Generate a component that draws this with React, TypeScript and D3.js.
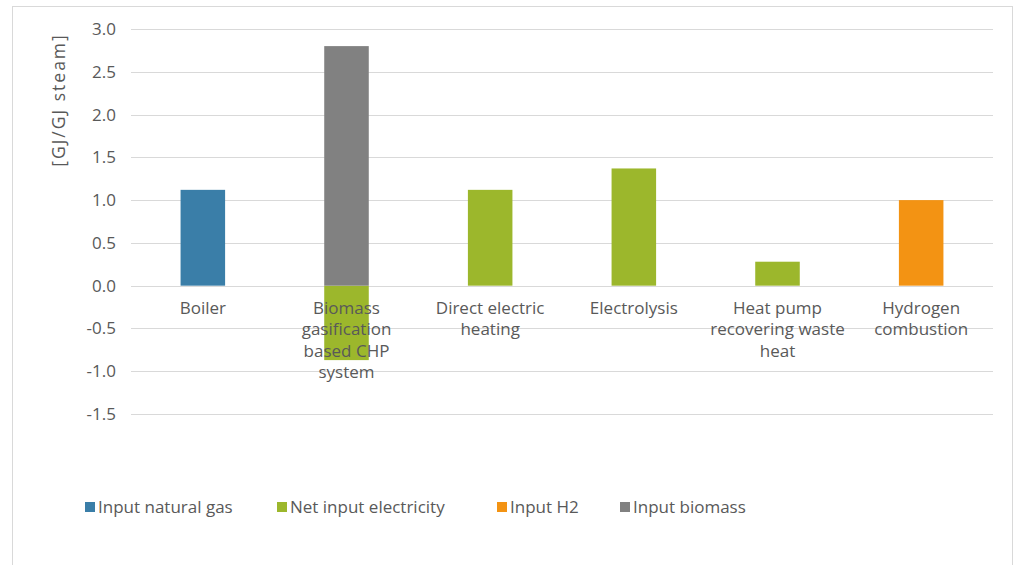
import React from "react";
import * as d3 from "d3";

const categories = ["Boiler", "Biomass gasification based CHP system", "Direct electric heating", "Electrolysis", "Heat pump recovering waste heat", "Hydrogen combustion"];
const categoryLines = [["Boiler"], ["Biomass", "gasification", "based CHP", "system"], ["Direct electric", "heating"], ["Electrolysis"], ["Heat pump", "recovering waste", "heat"], ["Hydrogen", "combustion"]];
const seriesNames = ["Input natural gas", "Net input electricity", "Input H2", "Input biomass"];
const seriesColors = ["#3A7EA8", "#9CB72C", "#F39313", "#818181"];
const naturalGas = [1.12, 0, 0, 0, 0, 0];
const electricity = [0, -0.87, 1.12, 1.37, 0.28, 0];
const hydrogen = [0, 0, 0, 0, 0, 1.0];
const biomass = [0, 2.8, 0, 0, 0, 0];
const yTicks = [-1.5, -1.0, -0.5, 0, 0.5, 1.0, 1.5, 2.0, 2.5, 3.0];
const yLabel = "[GJ/GJ steam]";

export default function App() {
  const W = 1018, H = 565;
  const left = 131, right = 993, top = 29, bottom = 414;
  const x = d3.scaleBand<number>().domain(d3.range(categories.length)).range([left, right]).paddingInner(0.69).paddingOuter(0.345);
  const y = d3.scaleLinear().domain([-1.5, 3.0]).range([bottom, top]);
  const series = [naturalGas, electricity, hydrogen, biomass];
  const font = "'Open Sans', sans-serif";
  const textColor = "#595959";

  const bars: any[] = [];
  categories.forEach((_, i) => {
    let pos = 0, neg = 0;
    series.forEach((s, k) => {
      const v = s[i];
      if (!v) return;
      let y0, y1;
      if (v > 0) { y0 = pos; y1 = pos + v; pos = y1; } else { y0 = neg + v; y1 = neg; neg = y0; }
      bars.push(<rect key={`${i}-${k}`} x={x(i)} width={x.bandwidth()} y={y(y1)} height={y(y0) - y(y1)} fill={seriesColors[k]} />);
    });
  });

  const legendX = [85, 277, 497, 620];

  return (
    <svg width={W} height={H} style={{ position: "absolute", left: 0, top: 0, background: "#fff" }} fontFamily={font}>
      <rect x={12.5} y={6.5} width={1000} height={570} fill="#fff" stroke="#D9D9D9" />
      {yTicks.map((t) => (
        <g key={t}>
          <line x1={left} x2={right} y1={Math.round(y(t)) + 0.5} y2={Math.round(y(t)) + 0.5} stroke="#D9D9D9" />
          <text x={116} y={y(t)} dy="0.35em" textAnchor="end" fontSize={17} fill={textColor}>{t.toFixed(1)}</text>
        </g>
      ))}
      {bars}
      {categoryLines.map((lines, i) => (
        <text key={i} x={x(i)! + x.bandwidth() / 2} y={y(0) + 28} textAnchor="middle" fontSize={17} fill={textColor}>
          {lines.map((l, j) => (
            <tspan key={j} x={x(i)! + x.bandwidth() / 2} dy={j === 0 ? 0 : 21.5}>{l}</tspan>
          ))}
        </text>
      ))}
      <text transform={`translate(65,${100}) rotate(-90)`} textAnchor="middle" fontSize={17.5} letterSpacing={2} fill={textColor}>{yLabel}</text>
      {seriesNames.map((n, k) => (
        <g key={n}>
          <rect x={legendX[k]} y={502} width={10} height={10} fill={seriesColors[k]} />
          <text x={legendX[k] + 13} y={507} dy="0.35em" fontSize={17} fill={textColor}>{n}</text>
        </g>
      ))}
    </svg>
  );
}
